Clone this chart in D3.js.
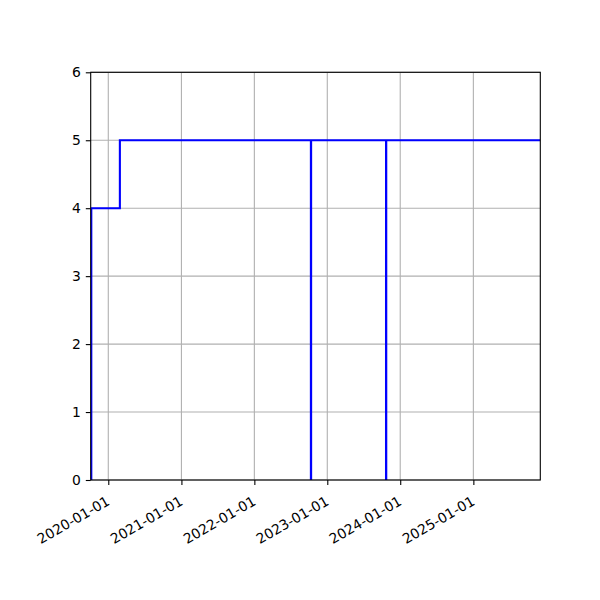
<!DOCTYPE html>
<html>
<head>
<meta charset="utf-8">
<script src="https://cdn.jsdelivr.net/npm/d3@7"></script>
<style>
  body { margin: 0; background: #fff; }
  text { font-family: "DejaVu Sans", sans-serif; font-size: 13.9px; fill: #000; }
</style>
</head>
<body>
<svg id="chart"></svg>
<script>
// step series
const dates = ["2019-10-05", "2019-10-08", "2020-02-28", "2022-10-11", "2022-10-12",
               "2023-10-22", "2023-10-23", "2025-12-02"];
const values = [0, 4, 5, 0, 5, 0, 5, 5];
const xTickDates = ["2020-01-01", "2021-01-01", "2022-01-01", "2023-01-01", "2024-01-01", "2025-01-01"];
const yTicks = [0, 1, 2, 3, 4, 5, 6];
const xDomain = ["2019-10-05", "2025-12-02"];
const yDomain = [0, 6];

// layout constants
const w = 600;
const h = 600;
const mLeft = 90.7, mRight = 540.3, mTop = 72.3, mBottom = 480;

const parse = d3.utcParse("%Y-%m-%d");
const fmt = d3.utcFormat("%Y-%m-%d");
const data = dates.map((d, i) => ({ date: parse(d), value: values[i] }));

const xScale = d3.scaleUtc()
  .domain(xDomain.map(parse))
  .range([mLeft, mRight]);

const yScale = d3.scaleLinear()
  .domain(yDomain)
  .range([mBottom, mTop]);

const svg = d3.select("#chart")
  .attr("width", w)
  .attr("height", h);

svg.append("defs").append("clipPath")
  .attr("id", "clip")
  .append("rect")
  .attr("x", mLeft).attr("y", mTop)
  .attr("width", mRight - mLeft).attr("height", mBottom - mTop);

// grid
const grid = svg.append("g");
grid.selectAll("line.gx")
  .data(xTickDates.map(parse))
  .enter().append("line")
  .attr("x1", d => xScale(d)).attr("x2", d => xScale(d))
  .attr("y1", mTop).attr("y2", mBottom)
  .attr("stroke", "#b0b0b0").attr("stroke-width", 1.1);
grid.selectAll("line.gy")
  .data(yTicks)
  .enter().append("line")
  .attr("x1", mLeft).attr("x2", mRight)
  .attr("y1", d => yScale(d)).attr("y2", d => yScale(d))
  .attr("stroke", "#b0b0b0").attr("stroke-width", 1.1);

// step line
const line = d3.line()
  .x(d => xScale(d.date))
  .y(d => yScale(d.value))
  .curve(d3.curveStepAfter);

svg.append("path")
  .datum(data)
  .attr("clip-path", "url(#clip)")
  .attr("d", line)
  .attr("fill", "none")
  .attr("stroke", "#0000ff")
  .attr("stroke-width", 2.1);

// x axis
const xAxis = d3.axisBottom(xScale)
  .tickValues(xTickDates.map(parse))
  .tickFormat(fmt)
  .tickSizeInner(4.9)
  .tickSizeOuter(0)
  .tickPadding(4.9);

const gx = svg.append("g")
  .attr("transform", `translate(0,${mBottom})`)
  .call(xAxis);
gx.select(".domain").remove();
gx.selectAll(".tick line").attr("stroke", "#000").attr("stroke-width", 1.1);
gx.selectAll(".tick text")
  .attr("y", 0).attr("dy", null)
  .attr("text-anchor", "end")
  .attr("transform", "translate(2,24) rotate(-30)");

// y axis
const yAxis = d3.axisLeft(yScale)
  .tickValues(yTicks)
  .tickFormat(d3.format("d"))
  .tickSizeInner(4.9)
  .tickSizeOuter(0)
  .tickPadding(4.9);

const gy = svg.append("g")
  .attr("transform", `translate(${mLeft},0)`)
  .call(yAxis);
gy.select(".domain").remove();
gy.selectAll(".tick line").attr("stroke", "#000").attr("stroke-width", 1.1);
gx.attr("font-size", null).attr("font-family", null);
gy.attr("font-size", null).attr("font-family", null);

// spines
svg.append("rect")
  .attr("x", mLeft).attr("y", mTop)
  .attr("width", mRight - mLeft).attr("height", mBottom - mTop)
  .attr("fill", "none")
  .attr("stroke", "#000")
  .attr("stroke-width", 1.1);
</script>
</body>
</html>
